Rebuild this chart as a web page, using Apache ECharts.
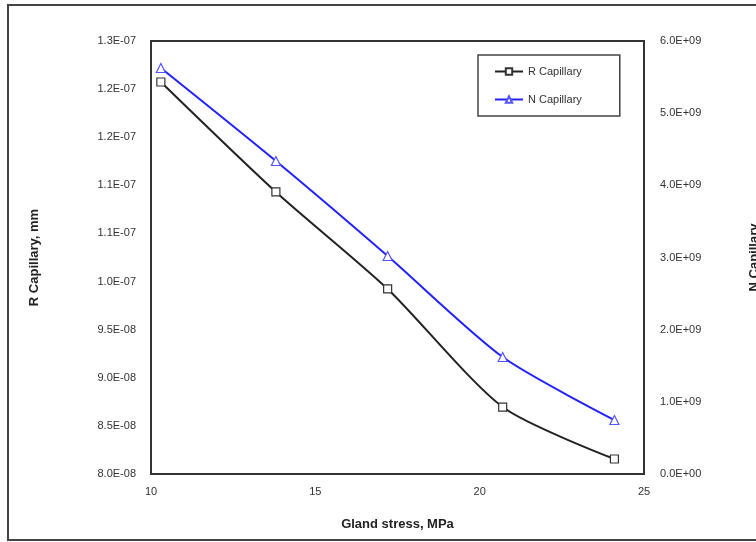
<!DOCTYPE html>
<html>
<head>
<meta charset="utf-8">
<script src="https://cdn.jsdelivr.net/npm/echarts@6/dist/echarts.min.js"></script>
<style>
html,body{margin:0;padding:0;background:#fff;}
#c{width:756px;height:542px;}
</style>
</head>
<body>
<div id="c"></div>
<script>
const glandStress = [10.3, 13.8, 17.2, 20.7, 24.1];
const rCapillary = [1.2074e-7, 1.0931e-7, 9.923e-8, 8.696e-8, 8.156e-8];
const nCapillary = [5.626e9, 4.337e9, 3.021e9, 1.621e9, 0.748e9];
const leftTickLabels = ['8.0E-08','8.5E-08','9.0E-08','9.5E-08','1.0E-07','1.1E-07','1.1E-07','1.2E-07','1.2E-07','1.3E-07'];
const rightTickLabels = ['0.0E+00','1.0E+09','2.0E+09','3.0E+09','4.0E+09','5.0E+09','6.0E+09'];
const xTickLabels = ['10','15','20','25'];

const chart = echarts.init(document.getElementById('c'), null, {renderer:'canvas'});
const font = 'Liberation Sans, Arial, sans-serif';
const lMin = 8.0e-8, lInt = 5e-9;
const rMin = 0, rInt = 1e9;
chart.setOption({
  backgroundColor: '#fff',
  animation: false,
  textStyle: {fontFamily: font},
  grid: {left: 151, right: 112, top: 41, bottom: 68, show: true, borderColor: '#333', borderWidth: 2,
    backgroundColor: 'transparent', containLabel: false, outerBoundsMode: 'none'},
  legend: {
    orient: 'vertical', left: 478, top: 55,
    padding: [11, 38, 11, 16], itemGap: 17, itemWidth: 28, itemHeight: 8,
    borderColor: '#444', borderWidth: 1.5,
    textStyle: {fontSize: 11, color: '#333', fontFamily: font},
    data: ['R Capillary', 'N Capillary']
  },
  xAxis: {
    type: 'value', min: 10, max: 25, interval: 5,
    name: 'Gland stress, MPa', nameLocation: 'middle', nameGap: 44,
    nameTextStyle: {fontSize: 13, fontWeight: 'bold', color: '#222', fontFamily: font},
    axisLine: {show: false}, axisTick: {show: false}, splitLine: {show: false},
    axisLabel: {fontSize: 11, color: '#333', margin: 12,
      formatter: v => xTickLabels[Math.round((v - 10) / 5)]}
  },
  yAxis: [{
    type: 'value', min: lMin, max: 1.25e-7, interval: lInt,
    name: 'R Capillary, mm', nameLocation: 'middle', nameGap: 110,
    nameTextStyle: {fontSize: 13, fontWeight: 'bold', color: '#222', fontFamily: font},
    axisLine: {show: false}, axisTick: {show: false}, splitLine: {show: false},
    axisLabel: {fontSize: 11, color: '#333', margin: 15,
      formatter: v => leftTickLabels[Math.round((v - lMin) / lInt)]}
  }, {
    type: 'value', min: rMin, max: 6e9, interval: rInt, position: 'right',
    name: 'N Capillary', nameLocation: 'middle', nameGap: 104, nameRotate: 90,
    nameTextStyle: {fontSize: 13, fontWeight: 'bold', color: '#222', fontFamily: font},
    axisLine: {show: false}, axisTick: {show: false}, splitLine: {show: false},
    axisLabel: {fontSize: 11, color: '#333', margin: 16,
      formatter: v => rightTickLabels[Math.round((v - rMin) / rInt)]}
  }],
  series: [{
    name: 'R Capillary', type: 'line', yAxisIndex: 0, smooth: 0.25,
    data: glandStress.map((x, i) => [x, rCapillary[i]]),
    symbol: 'rect', symbolSize: 8,
    lineStyle: {color: '#222', width: 2},
    itemStyle: {color: '#fff', borderColor: '#333', borderWidth: 1.2}
  }, {
    name: 'N Capillary', type: 'line', yAxisIndex: 1, smooth: 0.25,
    data: glandStress.map((x, i) => [x, nCapillary[i]]),
    symbol: 'triangle', symbolSize: 9,
    lineStyle: {color: '#2222ff', width: 2},
    itemStyle: {color: '#fff', borderColor: '#5555ff', borderWidth: 1.2}
  }],
  graphic: [{
    type: 'rect', z: 100, silent: true,
    shape: {x: 8, y: 5, width: 770, height: 535},
    style: {fill: 'none', stroke: '#444', lineWidth: 2}
  }]
});
</script>
</body>
</html>
